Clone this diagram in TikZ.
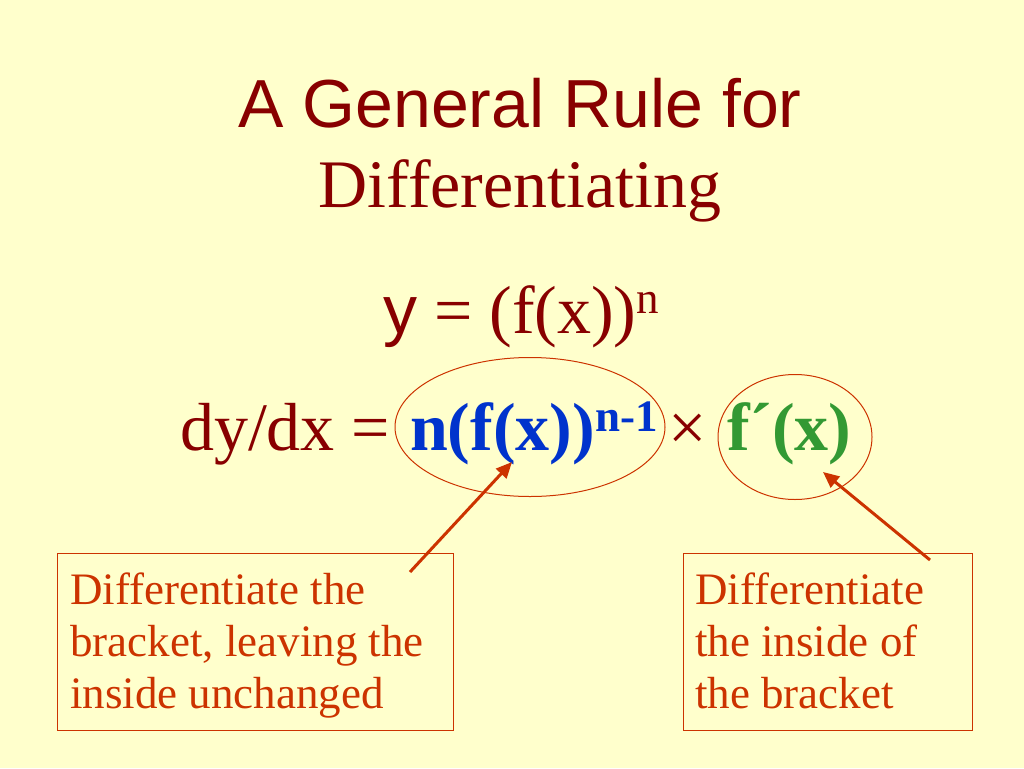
\documentclass[tikz,border=0pt]{standalone}
\usepackage{fontspec}
\setmainfont{Liberation Serif}
\setsansfont{Liberation Sans}
\usetikzlibrary{arrows.meta,shapes.geometric}
\definecolor{bg}{HTML}{FFFFCC}
\definecolor{titlered}{HTML}{880000}
\definecolor{oranged}{HTML}{CC3300}
\definecolor{fblue}{HTML}{0033CC}
\definecolor{fgreen}{HTML}{339933}
\newcommand{\bigf}{\fontsize{68}{82}\selectfont}
\newcommand{\supf}{\fontsize{45}{50}\selectfont}
\newcommand{\boxf}{\fontsize{45}{52}\selectfont}
\tikzset{
  txt/.style={inner sep=0pt, outer sep=0pt, text=titlered, font=\bigf},
  ring/.style={draw=oranged, line width=1pt, ellipse, inner sep=0pt},
  framebox/.style={draw=oranged, line width=1pt, anchor=north west, inner sep=0pt},
  note/.style={text=oranged, font=\boxf, align=left, anchor=north west, inner sep=0pt},
  pointer/.style={draw=oranged, line width=3pt, -{Triangle[length=16pt,width=14pt]}}
}
\begin{document}
\begin{tikzpicture}[x=1pt,y=-1pt]
\fill[bg] (0,0) rectangle (1024,768);
\useasboundingbox (0,0) rectangle (1024,768);
\node[txt, anchor=base, font=\bigf\sffamily] (t1) at (520,127) {A General Rule for};
\node[txt, anchor=base] (t2) at (520,207) {Differentiating};
\node[txt, anchor=base west] (eq1) at (383,333) {{\sffamily y} = (f(x))\raisebox{0.29em}{\supf n}};
\node[txt, anchor=base west] (dydx) at (180,450) {dy/dx =};
\node[txt, anchor=base west, text=fblue, font=\bigf\bfseries] (part1) at (410,450) {n(f(x))\raisebox{0.27em}{\supf n-1}};
\node[txt, anchor=base west] (times) at (668,450) {×};
\node[txt, anchor=base west, text=fgreen, font=\bigf\bfseries] (part2) at (727,450) {f´(x)};
\node[ring, minimum width=270pt, minimum height=139pt] (e1) at (530,427) {};
\node[ring, minimum width=154pt, minimum height=125pt] (e2) at (795,437) {};
\node[framebox, minimum width=396pt, minimum height=177pt] (b1) at (57,553) {};
\node[framebox, minimum width=289pt, minimum height=177pt] (b2) at (683,553) {};
\node[note] (n1) at (70,573) {Differentiate the\\bracket, leaving the\\inside unchanged};
\node[note] (n2) at (695,573) {Differentiate\\the inside of\\the bracket};
\coordinate (a1) at (410,572);
\coordinate (h1) at (512,462);
\coordinate (a2) at (930,560);
\coordinate (h2) at (823,472);
\draw[pointer] (a1) -- (h1);
\draw[pointer] (a2) -- (h2);
\end{tikzpicture}
\end{document}
